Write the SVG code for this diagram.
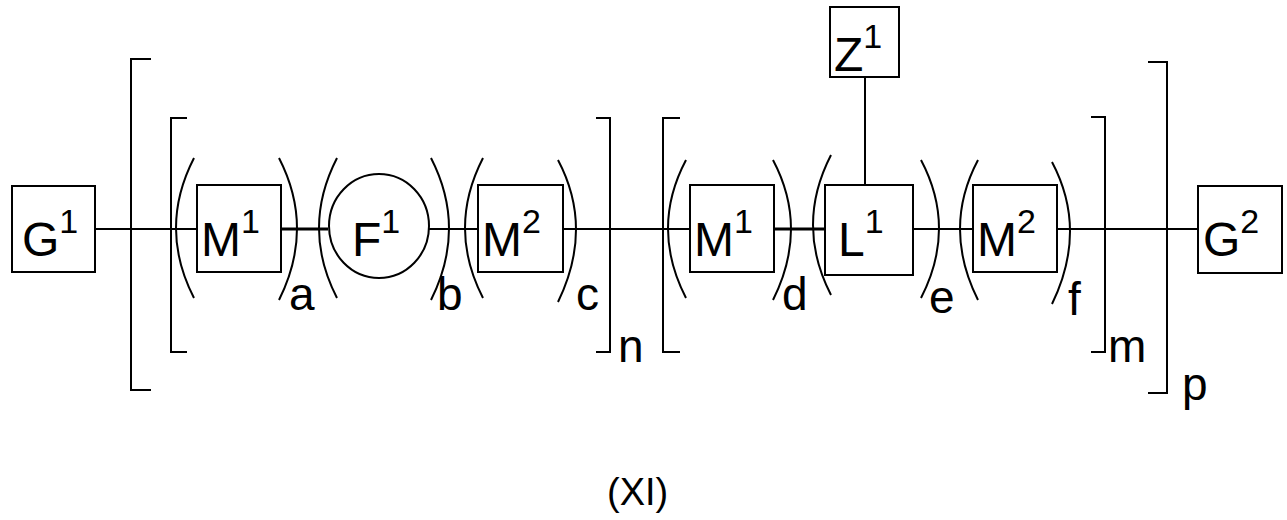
<svg xmlns="http://www.w3.org/2000/svg" width="1287" height="520" viewBox="0 0 1287 520">
<style>
rect,ellipse,path,line{fill:none;stroke:#000;stroke-width:2}
text{font-family:"Liberation Sans",Arial,sans-serif;font-size:48px;fill:#000}
.s{font-size:34px}
.l{font-size:46px}
</style>
<rect width="1287" height="520" fill="#fff" style="stroke:none"/>
<g id="connectors">
<line x1="95" y1="229" x2="197" y2="229"/>
<line x1="281" y1="229" x2="328" y2="229" style="stroke-width:3"/>
<line x1="429" y1="229" x2="478" y2="229"/>
<line x1="563" y1="229" x2="690" y2="229"/>
<line x1="774" y1="229" x2="825" y2="229" style="stroke-width:3"/>
<line x1="913" y1="229" x2="973" y2="229"/>
<line x1="1057" y1="229" x2="1198" y2="229"/>
<line x1="865" y1="77" x2="865" y2="185"/>
</g>
<g id="brackets">
<path d="M151,59 H131 V390 H151"/>
<path d="M187,118 H171 V352 H187"/>
<path d="M596,118 H610 V352 H596"/>
<path d="M680,118 H663 V352 H680"/>
<path d="M1091,117 H1105 V352 H1091"/>
<path d="M1148,62 H1167 V393 H1148"/>
<path d="M194,158 Q158,228 194,298"/>
<path d="M279,158 Q315,228 279,300"/>
<path d="M337,158 Q301,228 337,298"/>
<path d="M431,158 Q467,228 431,300"/>
<path d="M483,158 Q447,228 483,298"/>
<path d="M558,160 Q594,228 558,302"/>
<path d="M686,160 Q650,228 686,298"/>
<path d="M773,160 Q809,228 773,300"/>
<path d="M831,155 Q795,225 831,295"/>
<path d="M921,160 Q957,228 921,298"/>
<path d="M978,160 Q942,228 978,300"/>
<path d="M1052,162 Q1088,230 1052,304"/>
</g>
<g id="G1"><rect x="12" y="186" width="83" height="86"/><text x="22" y="256">G<tspan class="s" dy="-23">1</tspan></text></g>
<g id="M1a"><rect x="197" y="185" width="84" height="87"/><text x="201" y="256">M<tspan class="s" dy="-23">1</tspan></text></g>
<g id="F1"><ellipse cx="379" cy="226" rx="50" ry="52"/><text x="352" y="256">F<tspan class="s" dy="-23">1</tspan></text></g>
<g id="M2a"><rect x="478" y="185" width="85" height="87"/><text x="482" y="256">M<tspan class="s" dy="-23">2</tspan></text></g>
<g id="M1b"><rect x="690" y="185" width="84" height="87"/><text x="694" y="256">M<tspan class="s" dy="-23">1</tspan></text></g>
<g id="L1"><rect x="825" y="185" width="88" height="90"/><text x="838" y="256">L<tspan class="s" dy="-23">1</tspan></text></g>
<g id="Z1"><rect x="830" y="7" width="69" height="70"/><text x="834" y="71">Z<tspan class="s" dy="-23">1</tspan></text></g>
<g id="M2b"><rect x="973" y="185" width="84" height="87"/><text x="977" y="256">M<tspan class="s" dy="-23">2</tspan></text></g>
<g id="G2"><rect x="1198" y="186" width="84" height="87"/><text x="1203" y="256">G<tspan class="s" dy="-23">2</tspan></text></g>
<g id="labels">
<text class="l" x="289" y="310">a</text>
<text class="l" x="437" y="310">b</text>
<text class="l" x="576" y="310">c</text>
<text class="l" x="618" y="362">n</text>
<text class="l" x="782" y="310">d</text>
<text class="l" x="929" y="313">e</text>
<text class="l" x="1068" y="315">f</text>
<text class="l" x="1108" y="362">m</text>
<text class="l" x="1182" y="400">p</text>
<text style="font-size:38px" x="607" y="505">(XI)</text>
</g>
</svg>
